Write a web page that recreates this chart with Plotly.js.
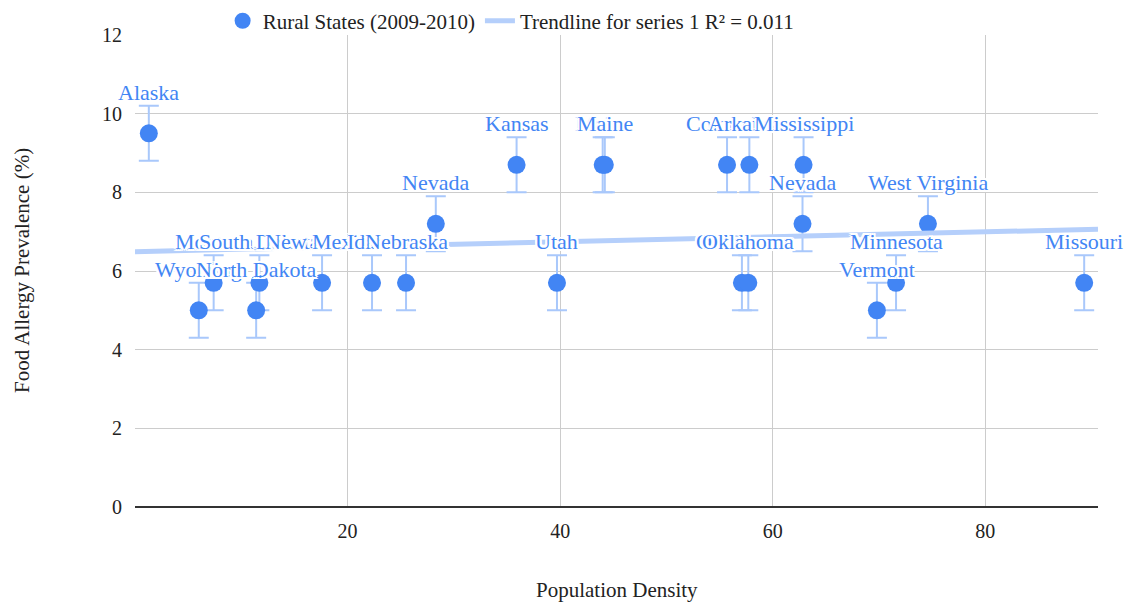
<!DOCTYPE html>
<html>
<head>
<meta charset="utf-8">
<script src="https://cdn.plot.ly/plotly-3.0.1.min.js"></script>
<style>html,body{margin:0;padding:0;background:#fff;}#chart{width:1130px;height:603px;}
#chart svg text{font-family:'Liberation Serif', 'Times New Roman', serif !important;}</style>
</head>
<body>
<div id="chart"></div>
<script>
// Data
const states = ["Alaska","Wyoming","Montana","North Dakota","South Dakota","New Mexico","Idaho","Nebraska","Nevada","Kansas","Utah","Maine","Maine","Colorado","Oklahoma","Oklahoma","Arkansas","Nevada","Mississippi","Vermont","Minnesota","West Virginia","Missouri"];
const density = [1.3,6.0,7.4,11.4,11.7,17.6,22.3,25.5,28.3,35.9,39.7,44.0,44.2,55.7,57.1,57.7,57.8,62.8,62.9,69.8,71.6,74.6,89.3];
const prevalence = [9.5,5.0,5.7,5.0,5.7,5.7,5.7,5.7,7.2,8.7,5.7,8.7,8.7,8.7,5.7,5.7,8.7,7.2,8.7,5.0,5.7,7.2,5.7];
const errorHalf = [0.7,0.7,0.7,0.7,0.7,0.7,0.7,0.7,0.7,0.7,0.7,0.7,0.7,0.7,0.7,0.7,0.7,0.7,0.7,0.7,0.7,0.7,0.7];
const xTicks = [20,40,60,80];
const yTicks = [0,2,4,6,8,10,12];
const xRange = [0,90.6];
const yRange = [0,12];
const xTitle = 'Population Density';
const yTitle = 'Food Allergy Prevalence (%)';

// Linear regression trendline from the data
const n = density.length;
const mx = density.reduce((a,b)=>a+b,0)/n;
const my = prevalence.reduce((a,b)=>a+b,0)/n;
let sxy=0, sxx=0;
for(let i=0;i<n;i++){sxy+=(density[i]-mx)*(prevalence[i]-my);sxx+=(density[i]-mx)*(density[i]-mx);}
const slope = sxy/sxx, intercept = my - slope*mx;
const trendX = [xRange[0], xRange[1]];
const trendY = trendX.map(x=>intercept+slope*x);

const SERIF = "Liberation Serif";
const BLUE = "#4285f4";
const TXT = "#222";
const halo = "-2px -2px 0 #fff, 2px -2px 0 #fff, -2px 2px 0 #fff, 2px 2px 0 #fff, 0 2px 0 #fff, 0 -2px 0 #fff, 2px 0 0 #fff, -2px 0 0 #fff";

const traces = [
  {x: density, y: prevalence, type:'scatter', mode:'markers', name:'Rural States (2009-2010)',
   marker:{color:BLUE, size:18},
   error_y:{type:'data', array:errorHalf, visible:true, color:'#a9c8fb', thickness:2, width:10}},
  {x: trendX, y: trendY, type:'scatter', mode:'lines', name:'Trendline for series 1 R² = 0.011',
   line:{color:'#b5cffb', width:5}, hoverinfo:'skip'}
];

const L=135, R=32, T=35, B=96, W=1130, H=603;
const pw = W-L-R, ph = H-T-B;

const annotations = states.map((s,i)=>({
  x: density[i], y: prevalence[i], xref:'x', yref:'y', text:s, showarrow:false,
  yshift:41, yanchor:'middle', xanchor:'center',
  font:{family:SERIF, size:22, color:BLUE, shadow:halo}
}));
annotations.push({x:((W/2 + 52) - L)/pw, y:-((590-(H-B))/ph), xref:'paper', yref:'paper', text:xTitle, showarrow:false,
  xanchor:'center', yanchor:'middle', font:{family:SERIF, size:21, color:TXT}});
annotations.push({x:-((L-22)/pw), y:0.5, xref:'paper', yref:'paper', text:yTitle, textangle:-90, showarrow:false,
  xanchor:'center', yanchor:'middle', font:{family:SERIF, size:21, color:TXT}});

const layout = {
  width:W, height:H,
  margin:{l:L, r:R, t:T, b:B, autoexpand:false},
  paper_bgcolor:'#fff', plot_bgcolor:'#fff',
  font:{family:SERIF, color:TXT, size:20},
  showlegend:true,
  legend:{orientation:'h', x:0.091, y:0.999, yref:'container', xanchor:'left', yanchor:'top',
    font:{family:SERIF, size:21, color:TXT}, traceorder:'normal', bgcolor:'rgba(0,0,0,0)'},
  xaxis:{range:xRange, tickvals:xTicks, ticktext:xTicks.map(String), showgrid:true, gridcolor:'#cccccc', gridwidth:1,
    zeroline:false, showline:false, ticks:'', ticklabelstandoff:10, tickfont:{family:SERIF, size:20, color:TXT}, automargin:false},
  yaxis:{range:yRange, tickvals:yTicks, ticktext:yTicks.map(String), showgrid:true, gridcolor:'#cccccc', gridwidth:1,
    zeroline:true, zerolinecolor:'#333', zerolinewidth:1.5, showline:false, ticks:'', ticklabelstandoff:12,
    tickfont:{family:SERIF, size:20, color:TXT}, automargin:false},
  annotations: annotations
};

Plotly.newPlot('chart', traces, layout, {displayModeBar:false}).then(function(gd){
  gd.querySelectorAll('svg text').forEach(function(t){ t.style.fontFamily = "'Liberation Serif', 'Times New Roman', serif"; });
});
</script>
</body>
</html>
